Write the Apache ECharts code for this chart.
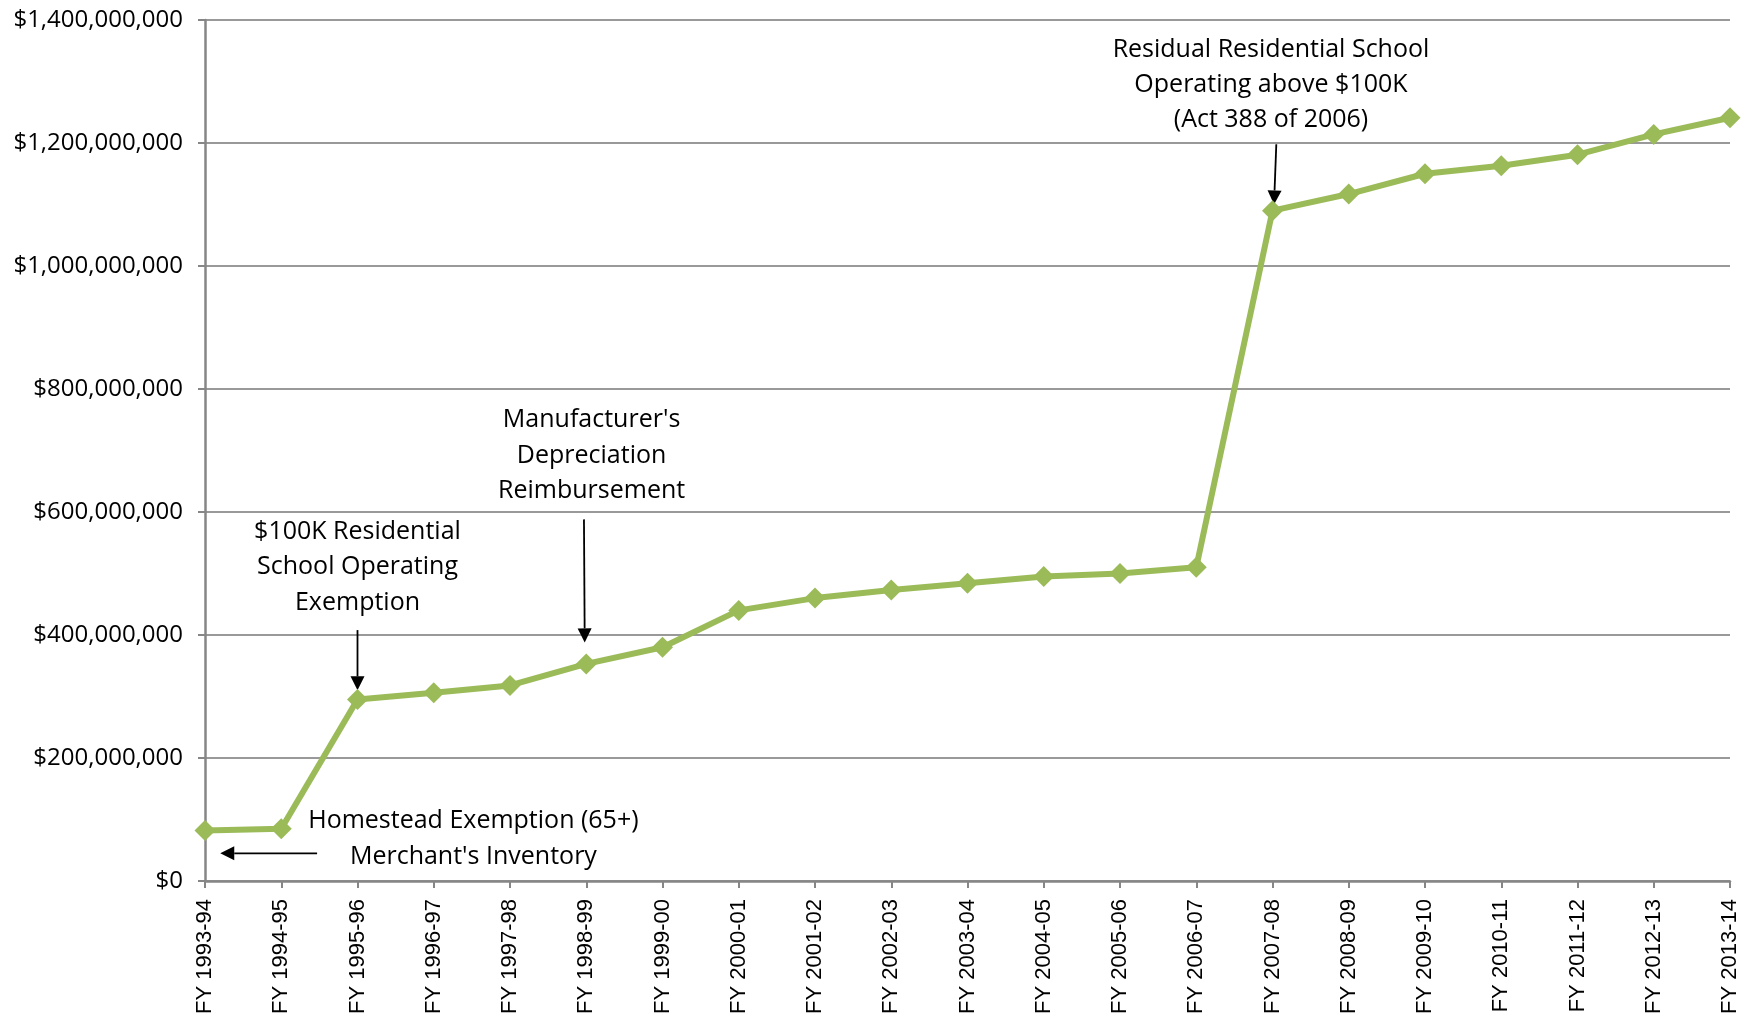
<!DOCTYPE html>
<html><head><meta charset="utf-8">
<script src="https://cdn.jsdelivr.net/npm/echarts@6/dist/echarts.min.js"></script>
<style>html,body{margin:0;padding:0;background:#fff}#c{width:1756px;height:1019px}</style>
</head><body><div id="c"></div>
<script>
var categories = ['FY 1993-94','FY 1994-95','FY 1995-96','FY 1996-97','FY 1997-98','FY 1998-99','FY 1999-00','FY 2000-01','FY 2001-02','FY 2002-03','FY 2003-04','FY 2004-05','FY 2005-06','FY 2006-07','FY 2007-08','FY 2008-09','FY 2009-10','FY 2010-11','FY 2011-12','FY 2012-13','FY 2013-14'];
var values = [82e6, 85e6, 295e6, 306e6, 318e6, 353e6, 380e6, 440e6, 460e6, 473e6, 484e6, 495e6, 500e6, 510e6, 1090e6, 1117e6, 1150e6, 1163e6, 1181e6, 1214e6, 1241e6];
var yTicks = [0, 200e6, 400e6, 600e6, 800e6, 1000e6, 1200e6, 1400e6];

// annotations: text lines anchored at [category index, value]
var notes = [
  {lines: ['Homestead Exemption (65+)', "Merchant's Inventory"], at: [3.52, 97e6], step: -57e6,
   arrow: [[1.47, 45e6], [0.2, 45e6]]},
  {lines: ['$100K Residential', 'School Operating', 'Exemption'], at: [2.0, 568e6], step: -58e6,
   arrow: [[2.0, 408e6], [2.0, 310e6]]},
  {lines: ["Manufacturer's", 'Depreciation', 'Reimbursement'], at: [5.07, 750e6], step: -58e6,
   arrow: [[4.97, 588e6], [4.98, 388e6]]},
  {lines: ['Residual Residential School', 'Operating above $100K', '(Act 388 of 2006)'], at: [13.98, 1352e6], step: -57e6,
   arrow: [[14.05, 1198e6], [14.02, 1100e6]]}
];

function fmt(v){ return '$' + Math.round(v).toString().replace(/\B(?=(\d{3})+(?!\d))/g, ','); }

var chart = echarts.init(document.getElementById('c'));
chart.setOption({
  animation: false,
  backgroundColor: '#fff',
  grid: {left: 205, right: 26, top: 20, bottom: 138, containLabel: false},
  xAxis: {
    type: 'category', data: categories, boundaryGap: false,
    axisLine: {lineStyle: {color: '#868686', width: 2.5}},
    axisTick: {show: true, length: 7, alignWithLabel: true, lineStyle: {color: '#868686', width: 2}},
    axisLabel: {rotate: 90, margin: 18, color: '#000', fontFamily: 'Liberation Sans', fontSize: 22, interval: 0}
  },
  yAxis: {
    type: 'value', min: yTicks[0], max: yTicks[yTicks.length-1], interval: yTicks[1]-yTicks[0],
    axisLine: {show: true, lineStyle: {color: '#868686', width: 2.5}},
    axisTick: {show: true, length: 7, lineStyle: {color: '#868686', width: 2}},
    splitLine: {lineStyle: {color: '#999999', width: 2}},
    axisLabel: {margin: 22, color: '#000', fontFamily: 'Open Sans', fontSize: 24, formatter: fmt}
  },
  series: [{
    type: 'line', data: values,
    symbol: 'diamond', symbolSize: 21,
    lineStyle: {color: '#9BBB59', width: 6},
    itemStyle: {color: '#9BBB59'}
  }]
});

function P(i, v){
  var a = Math.floor(i), b = Math.min(a + 1, categories.length - 1), f = i - a;
  var pa = chart.convertToPixel({gridIndex: 0}, [a, v]);
  var pb = chart.convertToPixel({gridIndex: 0}, [b, v]);
  return [pa[0] + f * (pb[0] - pa[0]), pa[1]];
}

var g = [];
notes.forEach(function(n){
  n.lines.forEach(function(t, k){
    var p = P(n.at[0], n.at[1] + k * n.step);
    g.push({type: 'text', x: p[0], y: p[1], style: {text: t, fill: '#000', font: '25px "Open Sans"', textAlign: 'center', textVerticalAlign: 'middle'}});
  });
  var s = P(n.arrow[0][0], n.arrow[0][1]), e = P(n.arrow[1][0], n.arrow[1][1]);
  var dx = e[0]-s[0], dy = e[1]-s[1], L = Math.sqrt(dx*dx+dy*dy), ux = dx/L, uy = dy/L;
  var hl = 14, hw = 7;
  var bx = e[0] - ux*hl, by = e[1] - uy*hl;
  g.push({type: 'line', shape: {x1: s[0], y1: s[1], x2: bx, y2: by}, style: {stroke: '#000', lineWidth: 1.8}});
  g.push({type: 'polygon', shape: {points: [[e[0], e[1]], [bx - uy*hw, by + ux*hw], [bx + uy*hw, by - ux*hw]]}, style: {fill: '#000'}});
});
chart.setOption({graphic: g});
</script></body></html>
